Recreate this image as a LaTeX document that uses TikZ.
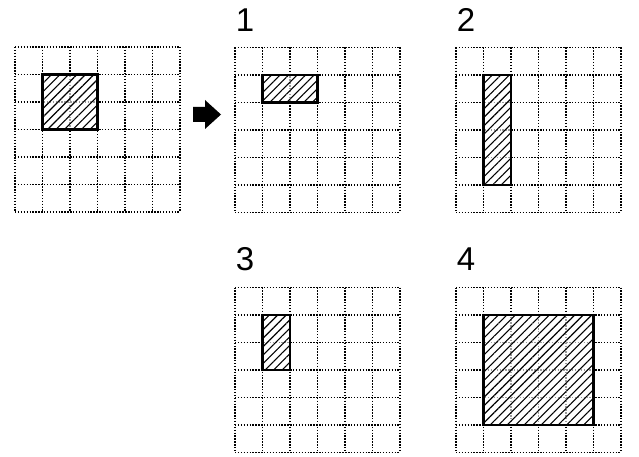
\documentclass[tikz,border=0pt]{standalone}
\usepackage{fontspec}
\setmainfont{Liberation Sans}
\usetikzlibrary{patterns.meta}
\newcommand\drawgridat[2]{%
  \begin{scope}[shift={(#1,#2)}]
    \foreach \i in {0,...,6}{%
      \draw[gridline] (\i*27.5,0) -- (\i*27.5,165);
      \draw[gridline] (0,\i*27.5) -- (165,\i*27.5);
    }
  \end{scope}}
\newcommand\shadedat[6]{% origin x, y, col1,row1,col2,row2
  \fill[white, opacity=0.6] (#1+#3*27.5,#2+#4*27.5) rectangle (#1+#5*27.5,#2+#6*27.5);
  \draw[shaded] (#1+#3*27.5,#2+#4*27.5) rectangle (#1+#5*27.5,#2+#6*27.5);}
\begin{document}
\begin{tikzpicture}[x=1pt,y=-1pt,
  gridline/.style={line width=1.6pt, dash pattern=on 1.4pt off 1.5pt},
  shaded/.style={draw, line width=2.4pt, line join=miter,
    pattern={Lines[angle=45,distance=6pt,line width=1.1pt]}},
  lbl/.style={font=\fontsize{33}{33}\selectfont, inner sep=0pt}]
\useasboundingbox (0,0) rectangle (639,457);
\fill[white] (0,0) rectangle (639,457);
% grids
\drawgridat{15}{47}
\drawgridat{235}{47.5}
\drawgridat{456}{47.5}
\drawgridat{235}{287.5}
\drawgridat{456}{287.5}
% shaded rectangles
\shadedat{15}{47}{1}{1}{3}{3}
\shadedat{235}{47.5}{1}{1}{3}{2}
\shadedat{456}{47.5}{1}{1}{2}{5}
\shadedat{235}{287.5}{1}{1}{2}{3}
\shadedat{456}{287.5}{1}{1}{5}{5}
% labels
\node[lbl] (l1) at (245,20) {1};
\node[lbl] (l2) at (466,20) {2};
\node[lbl] (l3) at (245,259) {3};
\node[lbl] (l4) at (466,259) {4};
% arrow
\coordinate (arr) at (193,129.5);
\fill ([yshift=7.5pt]arr) -- ++(12,0) -- ++(0,7) -- ++(16,-14.5)
  -- ++(-16,-14.5) -- ++(0,7) -- ++(-12,0) -- cycle;
\end{tikzpicture}
\end{document}
